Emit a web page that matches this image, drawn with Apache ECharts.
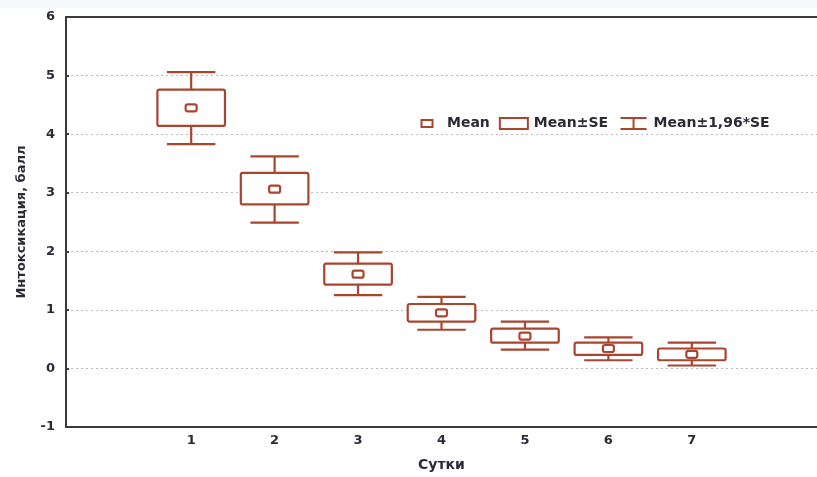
<!DOCTYPE html>
<html>
<head>
<meta charset="utf-8">
<script src="https://cdn.jsdelivr.net/npm/echarts@6/dist/echarts.min.js"></script>
<style>
html,body{margin:0;padding:0;background:#fff;}
#c{width:817px;height:477px;}
</style>
</head>
<body>
<div id="c"></div>
<script>
// Category labels (padding categories at both ends)
const xLabels = ['', '1', '2', '3', '4', '5', '6', '7', ''];
const days = [1, 2, 3, 4, 5, 6, 7];
const meanVals = [4.45, 3.06, 1.61, 0.95, 0.55, 0.34, 0.24];
const seHigh   = [4.76, 3.34, 1.79, 1.10, 0.68, 0.44, 0.34];
const seLow    = [4.14, 2.80, 1.43, 0.80, 0.44, 0.23, 0.14];
const ciHigh   = [5.06, 3.62, 1.98, 1.22, 0.80, 0.53, 0.44];
const ciLow    = [3.83, 2.49, 1.25, 0.66, 0.32, 0.14, 0.05];
const yTicks = [-1, 0, 1, 2, 3, 4, 5, 6];

const C = '#a9442f';
const AX = '#3a3a3a';
const FONT = 'DejaVu Sans';
const TXT = '#2b2b38';

const chart = echarts.init(document.getElementById('c'), null, {renderer: 'canvas'});

function boxItem(params, api) {
  const x = api.value(0);
  const lo = api.coord([x, api.value(1)]);
  const hi = api.coord([x, api.value(2)]);
  const bw = api.size([1, 0])[0] * 0.81;
  return {
    type: 'rect',
    shape: {x: lo[0] - bw / 2, y: hi[1], width: bw, height: lo[1] - hi[1], r: 2},
    style: {fill: '#fff', stroke: C, lineWidth: 2.2}
  };
}
function whiskerItem(params, api) {
  const x = api.value(0);
  const lo = api.coord([x, api.value(1)]);
  const hi = api.coord([x, api.value(2)]);
  const cw = api.size([1, 0])[0] * 0.58;
  const st = {stroke: C, lineWidth: 2.2};
  return {
    type: 'group',
    children: [
      {type: 'line', shape: {x1: lo[0], y1: lo[1], x2: hi[0], y2: hi[1]}, style: st},
      {type: 'line', shape: {x1: hi[0] - cw / 2, y1: hi[1], x2: hi[0] + cw / 2, y2: hi[1]}, style: st},
      {type: 'line', shape: {x1: lo[0] - cw / 2, y1: lo[1], x2: lo[0] + cw / 2, y2: lo[1]}, style: st}
    ]
  };
}
function meanItem(params, api) {
  const p = api.coord([api.value(0), api.value(1)]);
  return {
    type: 'rect',
    shape: {x: p[0] - 5.5, y: p[1] - 3.5, width: 11, height: 7, r: 2},
    style: {fill: '#fff', stroke: C, lineWidth: 2.2}
  };
}

const option = {
  animation: false,
  backgroundColor: '#fff',
  graphic: [{type: 'rect', left: 0, top: 0, shape: {width: 817, height: 8}, style: {fill: '#f6f8fb'}, silent: true, z: -10}],
  grid: {left: 66, top: 17, bottom: 49, right: -12, containLabel: false},
  legend: {
    left: 411, top: 114, padding: 0, itemGap: 8,
    itemWidth: 30, itemHeight: 14, selectedMode: false,
    textStyle: {fontFamily: FONT, fontSize: 14, fontWeight: 'bold', color: TXT, padding: [0, 0, 0, 0]},
    data: [
      {name: 'Mean', icon: 'path://M0 0M30 14M9.5 3.5h11v7h-11z', itemStyle: {color: '#fff', borderColor: C, borderWidth: 2}},
      {name: 'Mean±SE', icon: 'path://M0 0M30 14M1 1.5h28v11h-28z', itemStyle: {color: '#fff', borderColor: C, borderWidth: 2}},
      {name: 'Mean±1,96*SE', icon: 'path://M0 0M30 14M2 1.5H28M15 1.5V12.5M2 12.5H28', itemStyle: {color: 'none', borderColor: C, borderWidth: 2}}
    ]
  },
  xAxis: [
    {
      type: 'category', data: xLabels, position: 'bottom', boundaryGap: true,
      name: 'Сутки', nameLocation: 'middle', nameGap: 31,
      nameTextStyle: {fontFamily: FONT, fontSize: 14, fontWeight: 'bold', color: TXT},
      axisLine: {onZero: false, lineStyle: {color: AX, width: 2}},
      axisTick: {alignWithLabel: true, inside: true, length: 3, lineStyle: {color: AX, width: 2}},
      axisLabel: {margin: 7, fontFamily: FONT, fontSize: 13, fontWeight: 'bold', color: TXT, interval: 0},
      splitLine: {show: false}
    },
    {
      type: 'category', data: xLabels, position: 'top', boundaryGap: true,
      axisLine: {onZero: false, lineStyle: {color: AX, width: 2}},
      axisTick: {alignWithLabel: true, inside: true, length: 3, lineStyle: {color: AX, width: 2}},
      axisLabel: {show: false},
      splitLine: {show: false}
    }
  ],
  yAxis: {
    type: 'value', min: yTicks[0], max: yTicks[yTicks.length - 1], interval: 1,
    name: 'Интоксикация, балл', nameLocation: 'middle', nameGap: 38, nameRotate: 90,
    nameTextStyle: {fontFamily: FONT, fontSize: 13, fontWeight: 'bold', color: TXT},
    axisLine: {show: true, onZero: false, lineStyle: {color: AX, width: 2}},
    axisTick: {show: true, inside: true, length: 3, lineStyle: {color: AX, width: 2}},
    axisLabel: {margin: 11, fontFamily: FONT, fontSize: 13, fontWeight: 'bold', color: TXT},
    splitLine: {show: true, lineStyle: {color: '#b9b9b9', width: 1, type: [2, 3]}}
  },
  series: [
    {
      name: 'Mean±1,96*SE', type: 'custom', z: 2, renderItem: whiskerItem,
      itemStyle: {color: C},
      encode: {x: 0, y: [1, 2]},
      data: days.map((d, i) => [d, ciLow[i], ciHigh[i]])
    },
    {
      name: 'Mean±SE', type: 'custom', z: 3, renderItem: boxItem,
      itemStyle: {color: C},
      encode: {x: 0, y: [1, 2]},
      data: days.map((d, i) => [d, seLow[i], seHigh[i]])
    },
    {
      name: 'Mean', type: 'custom', z: 4, renderItem: meanItem,
      itemStyle: {color: C},
      encode: {x: 0, y: 1},
      data: days.map((d, i) => [d, meanVals[i]])
    }
  ]
};
chart.setOption(option);
</script>
</body>
</html>
